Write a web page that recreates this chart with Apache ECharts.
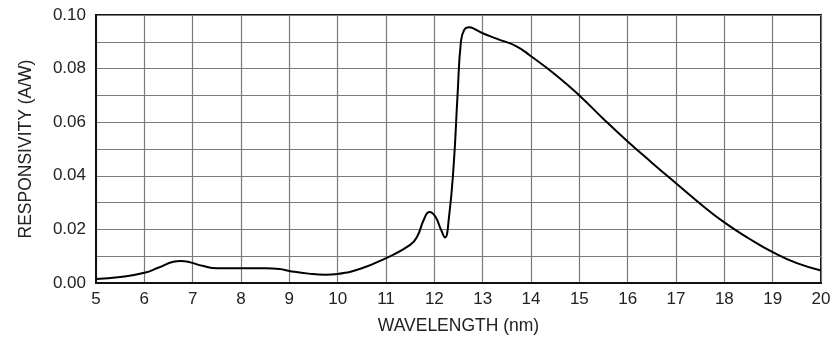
<!DOCTYPE html>
<html><head><meta charset="utf-8">
<script src="https://cdn.jsdelivr.net/npm/echarts@6/dist/echarts.min.js"></script>
<style>html,body{margin:0;padding:0;background:#fff}#c{width:834px;height:340px}</style>
</head><body><div id="c"></div>
<script>
const wavelength = [5.0, 5.5, 6.0, 6.3, 6.6, 6.75, 6.95, 7.2, 7.5, 8.0, 8.5, 8.8, 9.0, 9.4, 9.75, 10.0, 10.5, 11.0, 11.5, 11.65, 11.78, 11.9, 12.02, 12.14, 12.22, 12.3, 12.4, 12.48, 12.55, 12.62, 12.72, 12.85, 13.0, 13.3, 13.7, 14.0, 14.5, 15.0, 15.5, 16.0, 16.5, 17.0, 17.5, 18.0, 18.5, 19.0, 19.5, 20.0];
const responsivity = [0.0015, 0.0022, 0.0038, 0.0058, 0.0079, 0.0082, 0.0077, 0.0064, 0.0055, 0.0055, 0.0055, 0.0052, 0.0045, 0.0035, 0.0031, 0.0034, 0.0055, 0.0093, 0.0142, 0.0175, 0.0235, 0.0265, 0.0248, 0.0198, 0.017, 0.024, 0.044, 0.070, 0.090, 0.0945, 0.0954, 0.0946, 0.0932, 0.0911, 0.0883, 0.0846, 0.0778, 0.0700, 0.0612, 0.0528, 0.0449, 0.0372, 0.0296, 0.0226, 0.0167, 0.0115, 0.0074, 0.0047];
const xTicks = [5, 6, 7, 8, 9, 10, 11, 12, 13, 14, 15, 16, 17, 18, 19, 20];
const yTickLabels = ['0.00', '0.02', '0.04', '0.06', '0.08', '0.10'];

const chart = echarts.init(document.getElementById('c'), null, {renderer: 'canvas'});
const font = 'Liberation Sans, Arial, sans-serif';
chart.setOption({
  animation: false,
  grid: {left: 96, right: 13, top: 15, bottom: 55, show: true, borderColor: '#111', borderWidth: 2, backgroundColor: 'transparent'},
  xAxis: {
    type: 'value', min: xTicks[0], max: xTicks[xTicks.length - 1], interval: 1,
    name: 'WAVELENGTH (nm)', nameLocation: 'middle', nameGap: 34,
    nameTextStyle: {fontFamily: font, fontSize: 17.5, color: '#222'},
    axisLine: {show: true, lineStyle: {color: '#111', width: 2}},
    axisTick: {show: false},
    axisLabel: {fontFamily: font, fontSize: 17, color: '#222', margin: 8},
    splitLine: {show: true, lineStyle: {color: '#7a7a7a', width: 1.2}}
  },
  yAxis: {
    type: 'value', min: 0, max: 0.1, interval: 0.01,
    name: 'RESPONSIVITY (A/W)', nameLocation: 'middle', nameGap: 61, nameRotate: 90,
    nameTextStyle: {fontFamily: font, fontSize: 17.5, color: '#222'},
    axisLine: {show: true, lineStyle: {color: '#111', width: 2}},
    axisTick: {show: false},
    axisLabel: {
      fontFamily: font, fontSize: 17, color: '#222', margin: 10,
      formatter: function (v) {
        const s = v.toFixed(2);
        return yTickLabels.indexOf(s) >= 0 ? s : '';
      }
    },
    splitLine: {show: true, lineStyle: {color: '#7a7a7a', width: 1.2}}
  },
  series: [{
    type: 'line',
    data: wavelength.map((w, i) => [w, responsivity[i]]),
    smooth: 0.5,
    showSymbol: false,
    lineStyle: {color: '#000', width: 2}
  }]
});
</script></body></html>
